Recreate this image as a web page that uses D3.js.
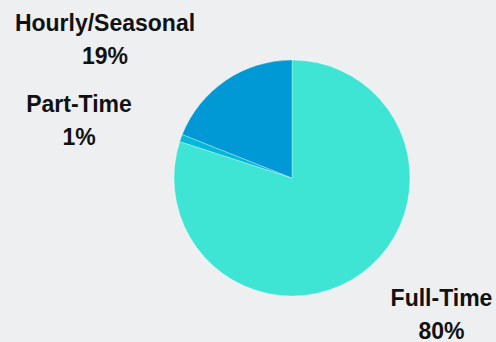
<!DOCTYPE html>
<html><head><meta charset="utf-8">
<script src="https://cdn.jsdelivr.net/npm/d3@7"></script>
<style>html,body{margin:0;padding:0;background:#eeeff1;}</style>
</head><body>
<svg id="c" width="496" height="342"></svg>
<script>
const categories = ["Full-Time", "Part-Time", "Hourly/Seasonal"];
const values = [80, 1, 19];
const colors = ["#3ee5d4", "#00b9d9", "#0099d5"];
const labelText = ["80%", "1%", "19%"];

const W = 496, H = 342;
const svg = d3.select("#c");
svg.append("rect").attr("width", W).attr("height", H).attr("fill", "#eeeff1");

const cx = 292, cy = 178, r = 118;
const pie = d3.pie().sort(null).value(d => d)(values);
const arc = d3.arc().innerRadius(0).outerRadius(r);
const g = svg.append("g").attr("transform", `translate(${cx},${cy})`);
g.selectAll("path").data(pie).join("path")
  .attr("d", arc)
  .attr("fill", (d, i) => colors[i])
  .attr("stroke", "#ffffff").attr("stroke-opacity", 0.5).attr("stroke-width", 0.6);

// label anchors (centre x, baseline of first line)
const labelPos = [[441.5, 306], [79, 112], [105, 31]];
const lg = svg.append("g").attr("font-family", "'Liberation Sans', Arial, sans-serif")
  .attr("font-weight", "bold").attr("font-size", 23).attr("fill", "#111").attr("text-anchor", "middle");
categories.forEach((c, i) => {
  const [x, y] = labelPos[i];
  lg.append("text").attr("x", x).attr("y", y).text(c);
  lg.append("text").attr("x", x).attr("y", y + 32.5).text(labelText[i]);
});
</script>
</body></html>
